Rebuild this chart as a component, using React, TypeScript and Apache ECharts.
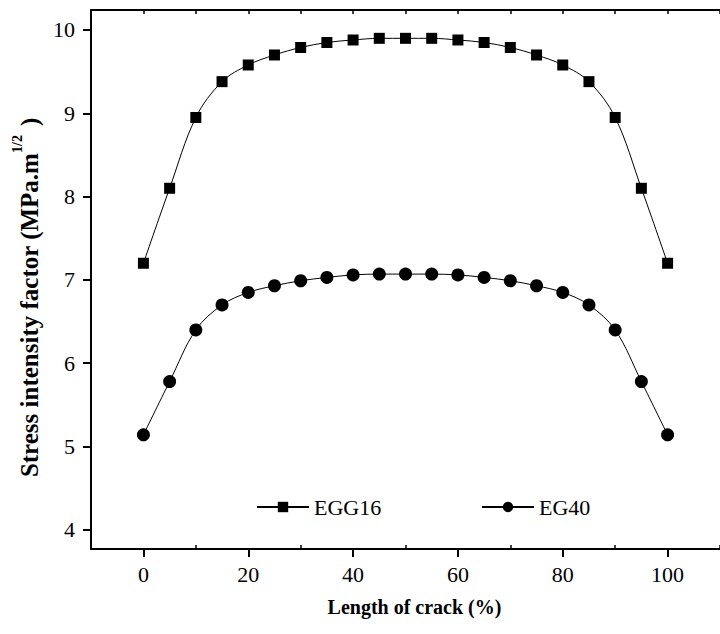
import React, { useEffect, useRef } from "react";
import * as echarts from "echarts";

const crackLength = [0, 5, 10, 15, 20, 25, 30, 35, 40, 45, 50, 55, 60, 65, 70, 75, 80, 85, 90, 95, 100];
const egg16 = [7.2, 8.1, 8.95, 9.38, 9.58, 9.7, 9.79, 9.85, 9.88, 9.9, 9.9, 9.9, 9.88, 9.85, 9.79, 9.7, 9.58, 9.38, 8.95, 8.1, 7.2];
const eg40 = [5.14, 5.78, 6.4, 6.7, 6.85, 6.93, 6.99, 7.03, 7.06, 7.07, 7.07, 7.07, 7.06, 7.03, 6.99, 6.93, 6.85, 6.7, 6.4, 5.78, 5.14];
const xLabels = [0, 20, 40, 60, 80, 100];
const xMinor = [10, 30, 50, 70, 90, 110];
const xTopTicks = [-10, 0, 10, 20, 30, 40, 50, 60, 70, 80, 90, 100, 110];
const yLabels = [4, 5, 6, 7, 8, 9, 10];

const SERIF = "Liberation Serif";

export default function App() {
  const ref = useRef<HTMLDivElement>(null);
  useEffect(() => {
    if (!ref.current) return;
    const chart = echarts.init(ref.current, undefined, { renderer: "svg" });
    const axisLine = { show: true, onZero: false, lineStyle: { color: "#000", width: 2 } };
    chart.setOption({
      animation: false,
      backgroundColor: "#fff",
      textStyle: { fontFamily: SERIF },
      grid: { left: 91, top: 10, right: -9, bottom: 85, containLabel: false },
      legend: [
        {
          data: ["EGG16"],
          left: 251,
          top: 491,
          itemWidth: 52,
          itemHeight: 13,
          textStyle: { fontFamily: SERIF, fontSize: 22, color: "#000" },
        },
        {
          data: ["EG40"],
          left: 476,
          top: 491,
          itemWidth: 52,
          itemHeight: 13,
          textStyle: { fontFamily: SERIF, fontSize: 22, color: "#000" },
        },
      ],
      xAxis: [
        {
          type: "value",
          min: -10,
          max: 110,
          position: "bottom",
          axisLine,
          splitLine: { show: false },
          axisTick: { show: true, inside: false, length: 8, customValues: xLabels, lineStyle: { color: "#000", width: 2 } },
          axisLabel: { customValues: xLabels, fontFamily: SERIF, fontSize: 22, color: "#000", margin: 14 },
          name: "Length of crack (%)",
          nameLocation: "middle",
          nameGap: 48,
          nameTextStyle: { fontFamily: SERIF, fontSize: 20, fontWeight: "bold", color: "#000", padding: [0, 0, 0, 18] },
        },
        {
          type: "value",
          min: -10,
          max: 110,
          position: "bottom",
          axisLine: { show: false },
          splitLine: { show: false },
          axisTick: { show: true, inside: true, length: 4, customValues: xMinor, lineStyle: { color: "#000", width: 1.5 } },
          axisLabel: { show: false },
        },
        {
          type: "value",
          min: -10,
          max: 110,
          position: "top",
          axisLine,
          splitLine: { show: false },
          axisTick: { show: true, inside: true, length: 4, customValues: xTopTicks, lineStyle: { color: "#000", width: 1.5 } },
          axisLabel: { show: false },
        },
      ],
      yAxis: [
        {
          type: "value",
          min: 3.77,
          max: 10.24,
          position: "left",
          axisLine,
          splitLine: { show: false },
          axisTick: { show: true, inside: false, length: 8, customValues: yLabels, lineStyle: { color: "#000", width: 2 } },
          axisLabel: { customValues: yLabels, fontFamily: SERIF, fontSize: 22, color: "#000", margin: 16 },
          name: "{t|Stress intensity factor (MPa.m}{s|1/2}{t|)}",
          nameLocation: "middle",
          nameGap: 46,
          nameTextStyle: {
            fontFamily: SERIF,
            fontWeight: "bold",
            color: "#000",
            padding: [0, 36, 0, 0],
            rich: {
              t: { fontFamily: SERIF, fontSize: 25, fontWeight: "bold", color: "#000", lineHeight: 32, verticalAlign: "bottom" },
              s: { fontFamily: SERIF, fontSize: 14, fontWeight: "bold", color: "#000", lineHeight: 32, verticalAlign: "top", padding: [0, 9, 0, 0] },
            },
          },
        },
      ],
      series: [
        {
          name: "EGG16",
          type: "line",
          smooth: 0.35,
          data: crackLength.map((x, i) => [x, egg16[i]]),
          symbol: "rect",
          symbolSize: 11,
          lineStyle: { color: "#000", width: 1 },
          itemStyle: { color: "#000" },
          xAxisIndex: 0,
          yAxisIndex: 0,
        },
        {
          name: "EG40",
          type: "line",
          smooth: 0.35,
          data: crackLength.map((x, i) => [x, eg40[i]]),
          symbol: "circle",
          symbolSize: 13,
          lineStyle: { color: "#000", width: 1 },
          itemStyle: { color: "#000" },
          xAxisIndex: 0,
          yAxisIndex: 0,
        },
      ],
    });
    return () => chart.dispose();
  }, []);
  return (
    <div
      ref={ref}
      style={{ position: "fixed", left: 0, top: 0, width: 720, height: 634, background: "#fff" }}
    />
  );
}
